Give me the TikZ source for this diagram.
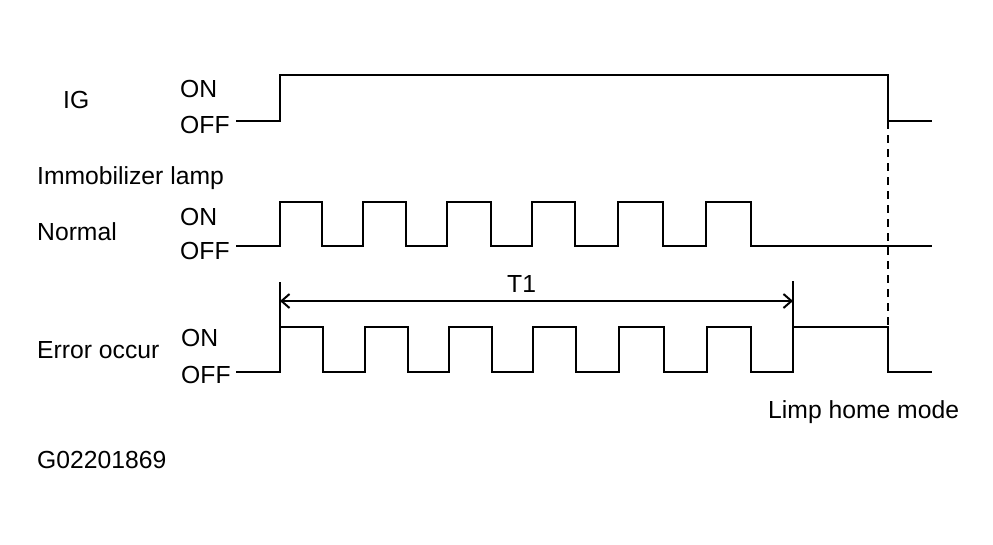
\documentclass[tikz,border=0pt]{standalone}
\usepackage{fontspec}
\setmainfont{Liberation Sans}
\usetikzlibrary{arrows.meta}
\begin{document}
\begin{tikzpicture}[x=1pt,y=-1pt,
  lbl/.style={anchor=base west,inner sep=0pt,font=\fontsize{24.7}{28}\selectfont},
  wave/.style={line width=2.8pt,line join=miter},
  dim/.style={line width=2pt},
  dashline/.style={line width=2.2pt,dash pattern=on 8pt off 6pt}]
\useasboundingbox (0,0) rectangle (993,544);
% labels
\node[lbl] (ig) at (63,108) {IG};
\node[lbl] (igon) at (180,97) {ON};
\node[lbl] (igoff) at (180,133) {OFF};
\node[lbl] (imm) at (37,184) {Immobilizer lamp};
\node[lbl] (norm) at (37,240) {Normal};
\node[lbl] (non) at (180,225) {ON};
\node[lbl] (noff) at (180,259) {OFF};
\node[lbl] (err) at (37,358) {Error occur};
\node[lbl] (eon) at (181,346) {ON};
\node[lbl] (eoff) at (181,383) {OFF};
\node[lbl] (t1) at (507,292) {T1};
\node[lbl] (limp) at (768,418) {Limp home mode};
\node[lbl] (code) at (37,468) {G02201869};
% IG waveform
\draw[wave] (236,121) -- (280,121) -- (280,75) -- (888,75) -- (888,121) -- (932,121);
% Normal waveform
\draw[wave] (236,246) -- (280,246)
  -- (280,202) -- (322,202) -- (322,246) -- (363,246)
  -- (363,202) -- (406,202) -- (406,246) -- (447,246)
  -- (447,202) -- (491,202) -- (491,246) -- (532,246)
  -- (532,202) -- (575,202) -- (575,246) -- (618,246)
  -- (618,202) -- (663,202) -- (663,246) -- (706,246)
  -- (706,202) -- (751,202) -- (751,246) -- (932,246);
% Error waveform
\draw[wave] (236,372) -- (280,372)
  -- (280,327) -- (323,327) -- (323,372) -- (365,372)
  -- (365,327) -- (408,327) -- (408,372) -- (449,372)
  -- (449,327) -- (492,327) -- (492,372) -- (533,372)
  -- (533,327) -- (576,327) -- (576,372) -- (619,372)
  -- (619,327) -- (664,327) -- (664,372) -- (707,372)
  -- (707,327) -- (751,327) -- (751,372) -- (793,372)
  -- (793,327) -- (888,327) -- (888,372) -- (932,372);
% T1 dimension
\coordinate (lt) at (280,282);
\coordinate (rt) at (793,281);
\coordinate (la) at (280,301);
\coordinate (ra) at (793,301);
\draw[dim] (lt) -- (280,327);
\draw[dim] (rt) -- (793,327);
\draw[dim,{Straight Barb[length=8pt,width=14pt,line width=2pt]}-{Straight Barb[length=8pt,width=14pt,line width=2pt]}] (la) -- (ra);
% dashed line
\coordinate (dtop) at (888,121);
\coordinate (dbot) at (888,327);
\draw[dashline] (dtop) -- (dbot);
\end{tikzpicture}
\end{document}
